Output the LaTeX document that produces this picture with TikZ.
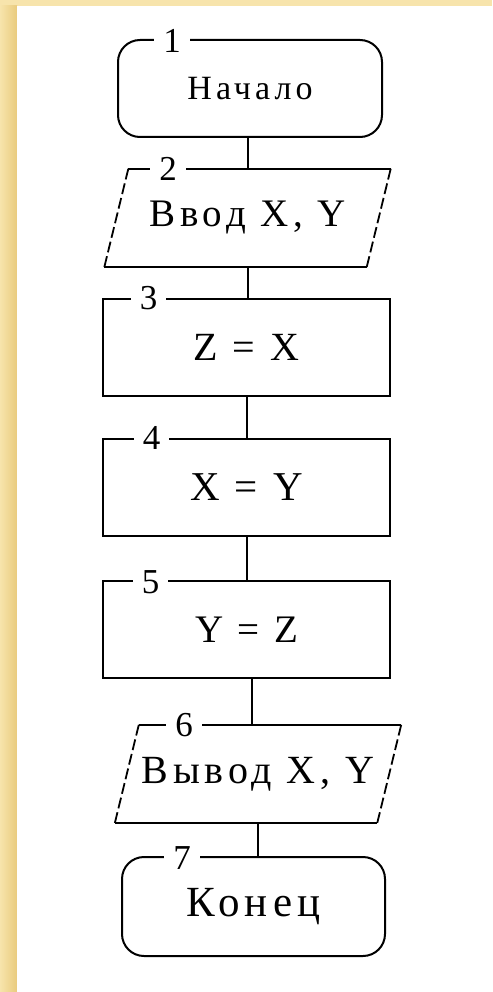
\documentclass[tikz,border=0pt]{standalone}
\usepackage{fontspec}
\setmainfont{Liberation Serif}[LetterSpace=12]
\newfontfamily\numfont{Liberation Serif}
\usetikzlibrary{positioning,calc}
\definecolor{slidebg}{RGB}{247,228,172}
\definecolor{slidegold}{RGB}{233,203,125}

\begin{document}
\begin{tikzpicture}[
    x=1pt, y=-1pt,
    term/.style={draw, line width=2pt, rounded corners=22pt, minimum width=264pt, minimum height=97pt, align=center},
    proc/.style={draw, line width=2pt, minimum width=287pt, minimum height=97pt, align=center},
    io/.style={minimum width=262pt, minimum height=98pt, align=center},
    num/.style={fill=white, inner xsep=9pt, inner ysep=1pt, font=\numfont\fontsize{35}{38}\selectfont},
    conn/.style={line width=2pt},
    side/.style={line width=1.8pt, dash pattern=on 11pt off 4pt}
]
% slide background
\fill[slidebg] (0,0) rectangle (492,992);
\shade[left color=slidebg, right color=slidegold] (0,6) rectangle (17,992);
\fill[white] (17,6) rectangle (492,992);

\node[term, font=\fontsize{34}{38}\selectfont] (start) at (250,88.5) {Начало};
\node[io, font=\fontsize{39}{42}\selectfont] (vvod) at (247.5,218) {Ввод X, Y};
\node[proc, font=\fontsize{40}{44}\selectfont] (zx) at (246.5,347.5) {Z = X};
\node[proc, font=\fontsize{41}{44}\selectfont] (xy) at (246.5,487.5) {X = Y};
\node[proc, font=\fontsize{39}{42}\selectfont] (yz) at (246.5,629.5) {Y = Z};
\node[io, font=\fontsize{40}{44}\selectfont] (vyvod) at (258,774) {Вывод X, Y};
\node[term, minimum width=263pt, minimum height=99pt, font=\fontsize{43}{46}\selectfont] (stop) at (253.5,906.5) {Конец};

% parallelograms
\draw[conn] ([xshift=12pt]vvod.north west) -- ([xshift=12pt]vvod.north east);
\draw[conn] ([xshift=-12pt]vvod.south west) -- ([xshift=-12pt]vvod.south east);
\draw[side] ([xshift=12pt]vvod.north west) -- ([xshift=-12pt]vvod.south west);
\draw[side] ([xshift=12pt]vvod.north east) -- ([xshift=-12pt]vvod.south east);
\draw[conn] ([xshift=12pt]vyvod.north west) -- ([xshift=12pt]vyvod.north east);
\draw[conn] ([xshift=-12pt]vyvod.south west) -- ([xshift=-12pt]vyvod.south east);
\draw[side] ([xshift=12pt]vyvod.north west) -- ([xshift=-12pt]vyvod.south west);
\draw[side] ([xshift=12pt]vyvod.north east) -- ([xshift=-12pt]vyvod.south east);

% block numbers
\node[num] (n1) at (172,41) {1};
\node[num] (n2) at (168,169) {2};
\node[num] (n3) at (148.5,298.5) {3};
\node[num] (n4) at (151.5,438) {4};
\node[num] (n5) at (150.5,582) {5};
\node[num] (n6) at (184,725) {6};
\node[num] (n7) at (182,858) {7};

\draw[conn] (vvod.north |- start.south) -- (vvod.north);
\draw[conn] (vvod.south) -- (vvod.south |- zx.north);
\draw[conn] (zx.south) -- (xy.north);
\draw[conn] (xy.south) -- (yz.north);
\draw[conn] ([xshift=5pt]yz.south) -- ([xshift=5pt]yz.south |- vyvod.north);
\draw[conn] (vyvod.south) -- (vyvod.south |- stop.north);
\end{tikzpicture}
\end{document}
